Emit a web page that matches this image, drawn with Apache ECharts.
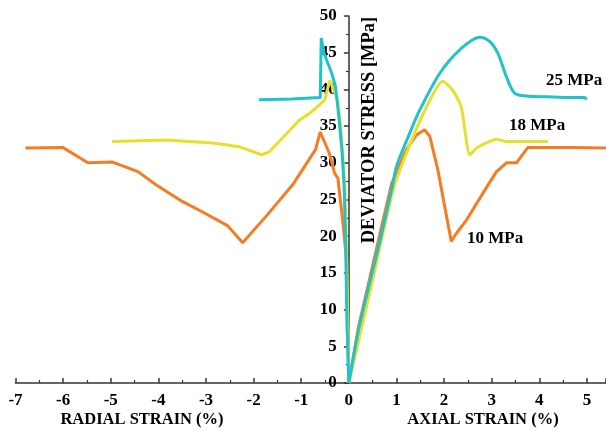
<!DOCTYPE html>
<html>
<head>
<meta charset="utf-8">
<script src="https://cdn.jsdelivr.net/npm/echarts@6/dist/echarts.min.js"></script>
<style>
  html, body { margin: 0; padding: 0; background: #fff; }
  #chart { width: 606px; height: 431px; }
</style>
</head>
<body>
<div id="chart"></div>
<script>
// 读图得到的数据（应变 %，偏应力 MPa）
var axial25Strain = [0, 0.22, 0.47, 0.64, 0.92, 1.0, 1.25, 1.49, 1.91, 2.33, 2.75, 2.96, 3.13, 3.31, 3.48, 3.73, 4.15, 4.71, 4.95, 4.99];
var axial25Stress = [0, 7.7, 14.5, 19.0, 27.0, 29.5, 33.6, 37.2, 42.2, 45.4, 47.1, 46.5, 44.9, 41.7, 39.5, 39.1, 39.0, 38.9, 38.9, 38.6];
var radial25Strain = [-1.89, -1.2, -0.6, -0.58, -0.56, -0.52, -0.36, -0.28, -0.21, -0.14, -0.10, -0.07, -0.04, 0];
var radial25Stress = [38.6, 38.7, 38.9, 47.0, 47.1, 44.9, 42.2, 40.4, 36.3, 31.3, 26.7, 20, 8, 0];

var axial18Strain = [0, 0.25, 0.5, 0.66, 0.94, 1.21, 1.63, 1.97, 2.18, 2.36, 2.54, 2.68, 2.89, 3.10, 3.31, 4.18];
var axial18Stress = [0, 7.0, 14.0, 18.8, 26.5, 31.3, 37.6, 41.1, 39.9, 37.6, 31.1, 32.0, 32.7, 33.2, 32.9, 32.9];
var radial18Strain = [-4.97, -3.84, -2.86, -2.30, -1.84, -1.67, -1.04, -0.83, -0.51, -0.40, -0.33, -0.24, -0.17, -0.12, -0.08, -0.05, -0.02, 0];
var radial18Stress = [32.9, 33.1, 32.7, 32.2, 31.1, 31.5, 35.8, 36.7, 38.5, 41.2, 40.2, 38.6, 34.9, 30.4, 25.9, 18, 8, 0];

var axial10Strain = [0, 0.2, 0.45, 0.62, 0.9, 1.21, 1.42, 1.59, 1.70, 1.87, 2.15, 2.26, 2.47, 2.82, 3.10, 3.31, 3.52, 3.76, 4.71, 5.4];
var axial10Stress = [0, 7.6, 14.6, 19.4, 27.2, 31.8, 33.8, 34.5, 33.6, 29.0, 19.3, 20.4, 22.2, 25.9, 28.8, 30.0, 30.0, 32.1, 32.1, 32.0];
var radial10Strain = [-6.79, -6.01, -5.48, -4.96, -4.43, -4.05, -3.49, -3.07, -2.54, -2.23, -1.74, -1.18, -0.70, -0.60, -0.41, -0.30, -0.23, -0.13, -0.05, -0.03, 0];
var radial10Stress = [32.0, 32.1, 30.0, 30.1, 28.8, 27.0, 24.7, 23.3, 21.4, 19.1, 22.7, 27.0, 31.8, 34.2, 31.3, 28.6, 27.9, 22.2, 16.8, 10, 0];

var seriesNames = ['25 MPa', '18 MPa', '10 MPa'];
var seriesColors = ['#1fc3c9', '#e6e02c', '#f47c22'];

var xMin = -7, xMax = 5.4;
var gridLeft = 15.5, gridRight = 0;

function zip(xs, ys) {
    var out = [];
    for (var i = 0; i < xs.length; i++) out.push([xs[i], ys[i]]);
    return out;
}

function lineSeries(name, color, data, smooth) {
    return {
        name: name,
        type: 'line',
        data: data,
        showSymbol: false,
        symbol: 'none',
        smooth: smooth || false,
        lineStyle: { color: color, width: 3 },
        silent: true
    };
}

var serif = '"Liberation Serif", "Times New Roman", serif';

var myChart = echarts.init(document.getElementById('chart'));

// y轴放在 x=0 处：用 offset 把轴从网格左边移进去
var gridWidth = 606 - gridLeft - gridRight;
var yAxisOffset = -gridWidth * (0 - xMin) / (xMax - xMin);

var option = {
    backgroundColor: '#fff',
    animation: false,
    grid: { left: gridLeft, right: gridRight, top: 16, bottom: 48, containLabel: false, outerBoundsMode: 'none' },
    xAxis: {
        type: 'value',
        min: xMin,
        max: xMax,
        interval: 1,
        splitLine: { show: false },
        axisLine: { onZero: true, lineStyle: { color: '#333', width: 1.5 } },
        axisTick: { inside: true, length: 5, lineStyle: { color: '#333', width: 1.5 } },
        minorTick: { show: true, splitNumber: 2, length: 3, lineStyle: { color: '#333', width: 1.2 } },
        axisLabel: {
            showMaxLabel: false,
            fontSize: 17,
            margin: 9,
            fontFamily: serif,
            fontWeight: 'bold',
            color: '#000'
        }
    },
    yAxis: {
        type: 'value',
        min: 0,
        max: 50,
        interval: 5,
        position: 'left',
        offset: yAxisOffset,
        splitLine: { show: false },
        axisLine: { onZero: false, lineStyle: { color: '#333', width: 1.5 } },
        axisTick: { length: 5, lineStyle: { color: '#333', width: 1.5 } },
        minorTick: { show: true, splitNumber: 2, length: 3, lineStyle: { color: '#333', width: 1.2 } },
        axisLabel: {
            fontSize: 17,
            margin: 12,
            fontFamily: serif,
            fontWeight: 'bold',
            color: '#000'
        }
    },
    graphic: [
        { type: 'text', x: 142, y: 420, style: { text: 'RADIAL STRAIN (%)', font: 'bold 16.5px ' + serif, fill: '#000', align: 'center', verticalAlign: 'middle' } },
        { type: 'text', x: 483, y: 420, style: { text: 'AXIAL STRAIN (%)', font: 'bold 16.5px ' + serif, fill: '#000', align: 'center', verticalAlign: 'middle' } },
        { type: 'text', x: 369, y: 130, rotation: Math.PI / 2, style: { text: 'DEVIATOR STRESS [MPa]', font: 'bold 18.5px ' + serif, fill: '#000', align: 'center', verticalAlign: 'middle' } },
        { type: 'text', x: 546, y: 81, style: { text: seriesNames[0], font: 'bold 17px ' + serif, fill: '#000', verticalAlign: 'middle' } },
        { type: 'text', x: 509, y: 126, style: { text: seriesNames[1], font: 'bold 17px ' + serif, fill: '#000', verticalAlign: 'middle' } },
        { type: 'text', x: 467, y: 239, style: { text: seriesNames[2], font: 'bold 17px ' + serif, fill: '#000', verticalAlign: 'middle' } }
    ],
    series: [
        lineSeries(seriesNames[2], seriesColors[2], zip(radial10Strain, radial10Stress)),
        lineSeries(seriesNames[2], seriesColors[2], zip(axial10Strain, axial10Stress)),
        lineSeries(seriesNames[1], seriesColors[1], zip(radial18Strain, radial18Stress)),
        lineSeries(seriesNames[1], seriesColors[1], zip(axial18Strain, axial18Stress), 0.2),
        lineSeries(seriesNames[0], seriesColors[0], zip(radial25Strain, radial25Stress)),
        lineSeries(seriesNames[0], seriesColors[0], zip(axial25Strain, axial25Stress), 0.3)
    ]
};

myChart.setOption(option);
</script>
</body>
</html>
